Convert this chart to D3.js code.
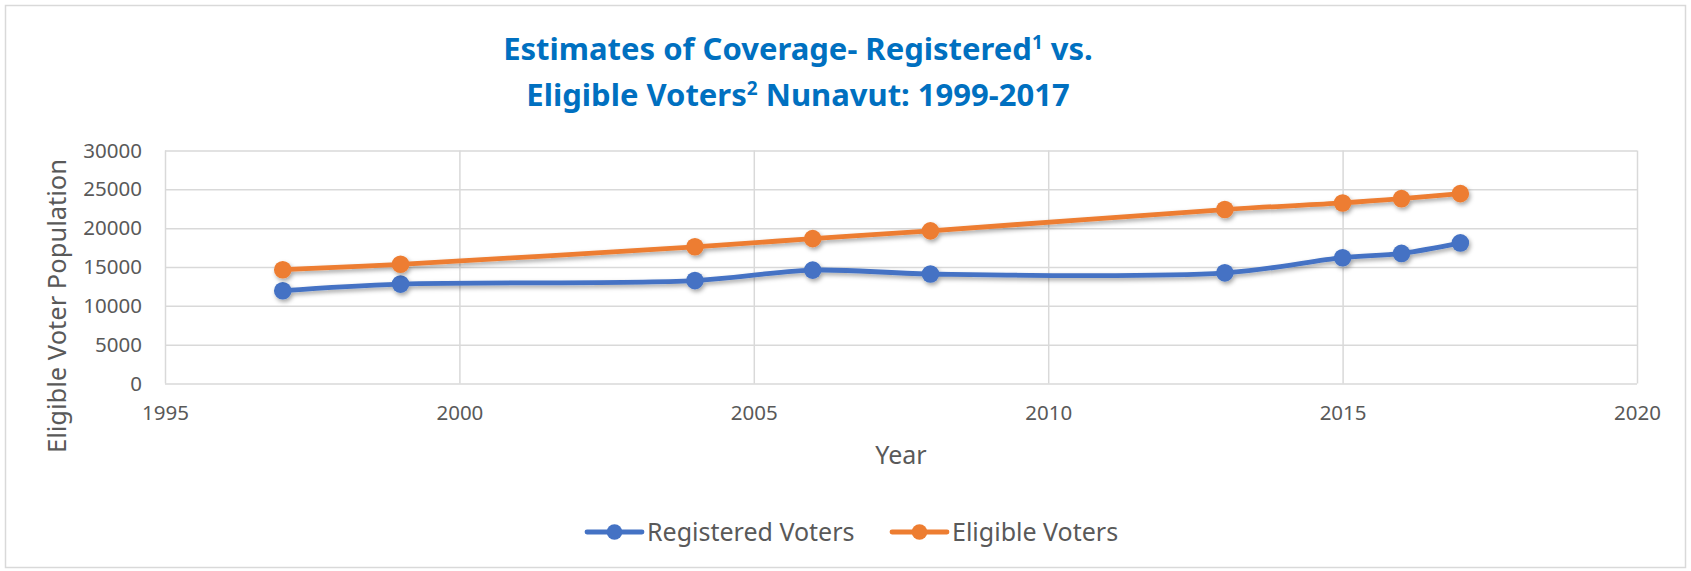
<!DOCTYPE html>
<html>
<head>
<meta charset="utf-8">
<script src="https://cdn.jsdelivr.net/npm/d3@7"></script>
<style>
  html, body { margin: 0; padding: 0; background: #fff; }
  svg { display: block; }
  .tick text { fill: #595959; font-family: "Noto Sans", sans-serif; font-size: 20.5px; }
  .grid line { stroke: #d9d9d9; stroke-width: 1.5; }
  .grid .domain { display: none; }
</style>
</head>
<body>
<script>
// data
var years      = [1997, 1999, 2004, 2006, 2008, 2013, 2015, 2016, 2017];
var registered = [11950, 12800, 13250, 14600, 14100, 14250, 16200, 16750, 18100];
var eligible   = [14650, 15350, 17600, 18650, 19650, 22400, 23250, 23800, 24450];
var seriesNames = ["Registered Voters", "Eligible Voters"];
var seriesColors = ["#4472c4", "#ed7d31"];
var xTicks = [1995, 2000, 2005, 2010, 2015, 2020];
var yTicks = [0, 5000, 10000, 15000, 20000, 25000, 30000];

var svg_width = 1691;
var svg_height = 571;

var margin = {left: 165, right: 54, top: 150.5, bottom: 187.5};
var plotW = svg_width - margin.left - margin.right;
var plotH = svg_height - margin.top - margin.bottom;

var svg = d3.select('body').append('svg')
            .attr('width', svg_width)
            .attr('height', svg_height);

// drop shadow like the office chart
var defs = svg.append('defs');
var f = defs.append('filter').attr('id', 'shadow')
            .attr('x', '-10%').attr('y', '-50%').attr('width', '120%').attr('height', '200%');
f.append('feDropShadow')
  .attr('dx', 1.5).attr('dy', 2.5).attr('stdDeviation', 2)
  .attr('flood-color', '#000').attr('flood-opacity', 0.35);

// chart border
svg.append('rect')
   .attr('x', 5.5).attr('y', 5.5)
   .attr('width', 1680).attr('height', 562)
   .attr('fill', 'none')
   .attr('stroke', '#d9d9d9')
   .attr('stroke-width', 1.5);

var x = d3.scaleLinear().domain([1995, 2020]).range([0, plotW]);
var y = d3.scaleLinear().domain([0, 30000]).range([plotH, 0]);

var g = svg.append('g').attr('transform', 'translate(' + margin.left + ',' + margin.top + ')');

// gridlines
g.append('g').attr('class', 'grid')
  .attr('transform', 'translate(0,' + plotH + ')')
  .call(d3.axisBottom(x).tickValues(xTicks).tickSize(-plotH).tickFormat(''));
g.append('g').attr('class', 'grid')
  .call(d3.axisLeft(y).tickValues(yTicks).tickSize(-plotW).tickFormat(''));

// tick labels
var xAxis = g.append('g')
  .attr('transform', 'translate(0,' + plotH + ')')
  .call(d3.axisBottom(x).tickValues(xTicks).tickSize(0).tickPadding(22).tickFormat(d3.format('d')));
xAxis.select('.domain').remove();

var yAxis = g.append('g')
  .call(d3.axisLeft(y).tickValues(yTicks).tickSize(0).tickPadding(23).tickFormat(d3.format('d')));
yAxis.select('.domain').remove();

// lines
var line = d3.line()
  .x(d => x(d[0]))
  .y(d => y(d[1]))
  .curve(d3.curveCatmullRom.alpha(0.5));

var series = [registered, eligible].map(function(vals, i) {
  return {name: seriesNames[i], color: seriesColors[i], pts: years.map((yr, j) => [yr, vals[j]])};
});

var sg = g.selectAll('.series').data(series).enter().append('g')
  .attr('class', 'series')
  .attr('filter', 'url(#shadow)');

sg.append('path')
  .attr('d', d => line(d.pts))
  .attr('fill', 'none')
  .attr('stroke', d => d.color)
  .attr('stroke-width', 4.8)
  .attr('stroke-linejoin', 'round')
  .attr('stroke-linecap', 'round');

sg.selectAll('circle').data(d => d.pts.map(p => ({p: p, color: d.color}))).enter()
  .append('circle')
  .attr('cx', d => x(d.p[0]))
  .attr('cy', d => y(d.p[1]))
  .attr('r', 8.8)
  .attr('fill', d => d.color);

// titles
var title = svg.append('text')
  .attr('text-anchor', 'middle')
  .attr('fill', '#0070c0')
  .attr('font-family', '"Liberation Sans Narrow", "Noto Sans", sans-serif')
  .attr('font-weight', 'bold')
  .attr('font-size', 31);
var t1 = title.append('tspan').attr('x', 798).attr('y', 60);
t1.append('tspan').text('Estimates of Coverage- Registered');
t1.append('tspan').attr('font-size', 19).attr('dy', -11).text('1');
t1.append('tspan').attr('dy', 11).text(' vs.');
var t2 = title.append('tspan').attr('x', 798).attr('y', 106);
t2.append('tspan').text('Eligible Voters');
t2.append('tspan').attr('font-size', 19).attr('dy', -11).text('2');
t2.append('tspan').attr('dy', 11).text(' Nunavut: 1999-2017');

svg.append('text')
  .attr('transform', 'translate(66,306) rotate(-90)')
  .attr('text-anchor', 'middle')
  .attr('fill', '#595959')
  .attr('font-family', '"Noto Sans", sans-serif')
  .attr('font-size', 25.5)
  .text('Eligible Voter Population');

svg.append('text')
  .attr('x', margin.left + plotW / 2)
  .attr('y', 464)
  .attr('text-anchor', 'middle')
  .attr('fill', '#595959')
  .attr('font-family', '"Noto Sans", sans-serif')
  .attr('font-size', 25)
  .text('Year');

// legend
var legendX = [587, 892];
var lg = svg.selectAll('.legend').data(series).enter().append('g')
  .attr('class', 'legend')
  .attr('transform', (d, i) => 'translate(' + legendX[i] + ',532)');
lg.append('line')
  .attr('x1', 0).attr('x2', 55)
  .attr('stroke', d => d.color)
  .attr('stroke-width', 4.8)
  .attr('stroke-linecap', 'round');
lg.append('circle')
  .attr('cx', 27.5).attr('r', 7.8)
  .attr('fill', d => d.color);
lg.append('text')
  .attr('x', 60)
  .attr('dy', '0.35em')
  .attr('fill', '#595959')
  .attr('font-family', '"Noto Sans", sans-serif')
  .attr('font-size', 25)
  .text(d => d.name);
</script>
</body>
</html>
